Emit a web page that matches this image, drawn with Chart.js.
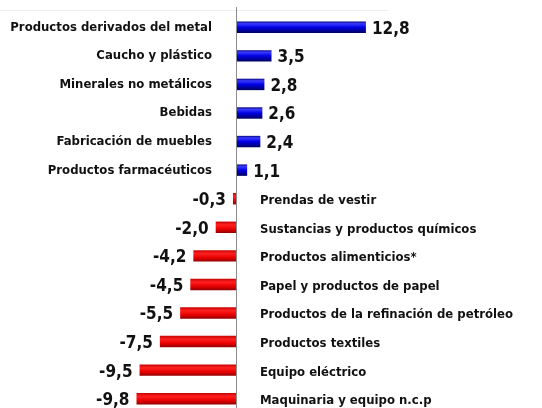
<!DOCTYPE html>
<html>
<head>
<meta charset="utf-8">
<script src="https://cdn.jsdelivr.net/npm/chart.js@4/dist/chart.umd.min.js"></script>
<style>
html,body{margin:0;padding:0;background:#fff;overflow:hidden;}
#wrap{position:absolute;left:0;top:0;width:542px;height:413px;}
</style>
</head>
<body>
<div id="wrap"><canvas id="c" width="542" height="413"></canvas></div>
<script>
const categories = [
  "Productos derivados del metal",
  "Caucho y plástico",
  "Minerales no metálicos",
  "Bebidas",
  "Fabricación de muebles",
  "Productos farmacéuticos",
  "Prendas de vestir",
  "Sustancias y productos químicos",
  "Productos alimenticios*",
  "Papel y productos de papel",
  "Productos de la refinación de petróleo",
  "Productos textiles",
  "Equipo eléctrico",
  "Maquinaria y equipo n.c.p"
];
const values = [12.8, 3.5, 2.8, 2.6, 2.4, 1.1, -0.3, -2.0, -4.2, -4.5, -5.5, -7.5, -9.5, -9.8];

const LABEL_FONT = "bold 13px 'DejaVu Sans Condensed', 'DejaVu Sans'";
const VALUE_FONT = "bold 17px 'DejaVu Sans Condensed', 'DejaVu Sans'";

function barGradient(ctx, y0, y1, positive) {
  const g = ctx.createLinearGradient(0, y0, 0, y1);
  if (positive) {
    g.addColorStop(0, '#000070');
    g.addColorStop(0.2, '#3a3aff');
    g.addColorStop(0.5, '#0000e6');
    g.addColorStop(1, '#000058');
  } else {
    g.addColorStop(0, '#c00000');
    g.addColorStop(0.3, '#ff2020');
    g.addColorStop(0.65, '#e80000');
    g.addColorStop(1, '#8a0000');
  }
  return g;
}

const labelPlugin = {
  id: 'labelsPlugin',
  beforeDatasetsDraw(chart) {
    const ctx = chart.ctx;
    ctx.save();
    ctx.strokeStyle = '#eeeeee';
    ctx.lineWidth = 1;
    ctx.beginPath();
    ctx.moveTo(0, 10.5);
    ctx.lineTo(388, 10.5);
    ctx.stroke();
    ctx.restore();
  },
  afterDatasetsDraw(chart) {
    const ctx = chart.ctx;
    const xs = chart.scales.x, ys = chart.scales.y;
    const x0 = xs.getPixelForValue(0);
    ctx.save();
    ctx.strokeStyle = '#8c8c8c';
    ctx.lineWidth = 1;
    ctx.beginPath();
    ctx.moveTo(Math.round(x0) + 0.5, 7);
    ctx.lineTo(Math.round(x0) + 0.5, chart.height);
    ctx.stroke();
    ctx.fillStyle = '#111';
    ctx.textBaseline = 'middle';
    values.forEach((v, i) => {
      const y = ys.getPixelForValue(i);
      const xe = xs.getPixelForValue(v);
      const txt = v.toFixed(1).replace('.', ',');
      if (v >= 0) {
        ctx.font = LABEL_FONT;
        ctx.textAlign = 'right';
        ctx.fillText(categories[i], x0 - 24, y);
        ctx.font = VALUE_FONT;
        ctx.textAlign = 'left';
        ctx.fillText(txt, xe + 6, y + 2);
      } else {
        ctx.font = LABEL_FONT;
        ctx.textAlign = 'left';
        ctx.fillText(categories[i], x0 + 24, y + 2);
        ctx.font = VALUE_FONT;
        ctx.textAlign = 'right';
        ctx.fillText(txt, xe - 7, y + 2);
      }
    });
    ctx.restore();
  }
};

new Chart(document.getElementById('c'), {
  type: 'bar',
  data: {
    labels: categories,
    datasets: [{
      data: values,
      barPercentage: 0.4,
      categoryPercentage: 1,
      borderWidth: 0,
      backgroundColor: (c) => {
        const chart = c.chart;
        const v = values[c.dataIndex];
        const fallback = v >= 0 ? '#0000cc' : '#ee0000';
        if (!chart.scales || !chart.scales.y) return fallback;
        const y = chart.scales.y.getPixelForValue(c.dataIndex);
        if (!isFinite(y)) return fallback;
        return barGradient(chart.ctx, y - 6, y + 6, v >= 0);
      }
    }]
  },
  options: {
    indexAxis: 'y',
    responsive: false,
    animation: false,
    layout: { padding: { top: 13, bottom: 0, left: 0, right: 0 } },
    plugins: { legend: { display: false }, tooltip: { enabled: false } },
    scales: {
      x: { display: false, min: -23.25, max: 30.15 },
      y: { display: false, offset: true }
    }
  },
  plugins: [labelPlugin]
});
</script>
</body>
</html>
